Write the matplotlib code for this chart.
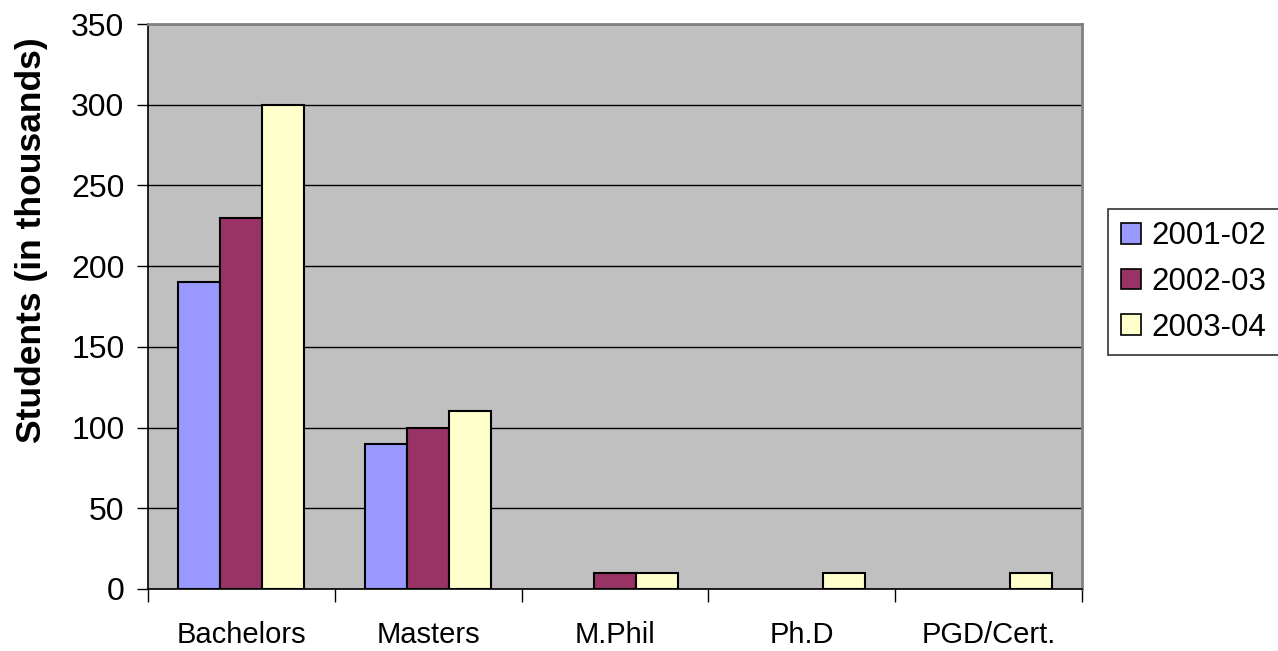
import matplotlib
matplotlib.use("Agg")
import matplotlib.pyplot as plt
import numpy as np

categories = ["Bachelors", "Masters", "M.Phil", "Ph.D", "PGD/Cert."]
years = ["2001-02", "2002-03", "2003-04"]
students_2001 = [190, 90, 0, 0, 0]
students_2002 = [230, 100, 10, 0, 0]
students_2003 = [300, 110, 10, 10, 10]
yticks = [0, 50, 100, 150, 200, 250, 300, 350]

colors = ["#9999FF", "#993366", "#FFFFCC"]

plt.rcParams["font.family"] = ["Liberation Sans", "DejaVu Sans"]

fig = plt.figure(figsize=(12.78, 6.51), dpi=100)
ax = fig.add_axes([148 / 1278, 1 - 589 / 651, (1082 - 148) / 1278, (589 - 24) / 651])
ax.set_facecolor("#C0C0C0")

x = np.arange(len(categories))
width = 0.225
series = [students_2001, students_2002, students_2003]
handles = []
for i, (vals, col, lab) in enumerate(zip(series, colors, years)):
    offs = (i - 1) * width
    xs = [xi + offs for xi, v in zip(x, vals) if v > 0]
    vs = [v for v in vals if v > 0]
    ax.bar(xs, vs, width, color=col, edgecolor="black", linewidth=1.5, zorder=3)
    handles.append(plt.Rectangle((0, 0), 1, 1, facecolor=col, edgecolor="black", linewidth=1.2, label=lab))

ax.set_xlim(-0.5, len(categories) - 0.5)
ax.set_ylim(0, 350)
ax.set_yticks(yticks)
ax.yaxis.grid(True, color="black", linewidth=1, zorder=0)
ax.set_axisbelow(True)
ax.spines["top"].set_color("#808080")
ax.spines["right"].set_color("#808080")
ax.spines["top"].set_linewidth(2)
ax.spines["right"].set_linewidth(2)
ax.spines["left"].set_linewidth(1.2)
ax.spines["bottom"].set_linewidth(1.2)

# category labels centred on groups, ticks between groups
ax.set_xticks(np.arange(-0.5, len(categories)), minor=False)
ax.set_xticklabels([])
ax.set_xticks(x, minor=True)
ax.set_xticklabels(categories, minor=True)
ax.tick_params(axis="x", which="minor", length=0, pad=23, labelsize=21)
ax.tick_params(axis="x", which="major", length=9, width=1, direction="out")
ax.tick_params(axis="y", length=8, width=1, direction="out", labelsize=23, pad=9)

ax.set_ylabel("Students (in thousands)", fontsize=25.5, fontweight="bold")
ax.yaxis.set_label_coords(-0.107, 0.618)

leg = fig.legend(handles=handles, loc="center left", bbox_to_anchor=(1108 / 1278, 1 - 282 / 651),
                 fontsize=22.5, frameon=True, fancybox=False, edgecolor="black",
                 handlelength=0.65, handleheight=0.65, handletextpad=0.35, borderpad=0.4,
                 labelspacing=0.5, borderaxespad=0)
leg.get_frame().set_linewidth(1.2)

fig.savefig("out.png", dpi=100, facecolor="white")
